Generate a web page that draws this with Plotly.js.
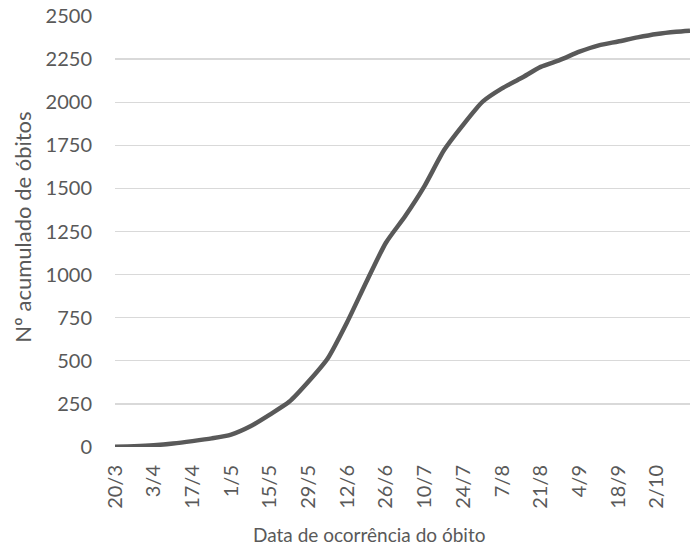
<!DOCTYPE html>
<html>
<head>
<meta charset="utf-8">
<script src="https://cdn.plot.ly/plotly-3.0.1.min.js"></script>
<style>html,body{margin:0;padding:0;background:#fff;}#chart{width:699px;height:547px;}</style>
</head>
<body>
<div id="chart"></div>
<script>
// Dates (day/month 2020) and cumulative deaths
const dates = ['2020-03-20','2020-03-27','2020-04-03','2020-04-10','2020-04-17','2020-04-24',
  '2020-05-01','2020-05-08','2020-05-15','2020-05-22','2020-05-29','2020-06-05','2020-06-12',
  '2020-06-19','2020-06-26','2020-07-03','2020-07-10','2020-07-17','2020-07-24','2020-07-31',
  '2020-08-07','2020-08-14','2020-08-21','2020-08-28','2020-09-04','2020-09-11','2020-09-18',
  '2020-09-25','2020-10-02','2020-10-09','2020-10-14'];
const deaths = [1, 4, 10, 20, 34, 50, 72, 120, 188, 262, 380, 515, 725, 960, 1185, 1340,
  1515, 1721, 1870, 2003, 2080, 2140, 2205, 2245, 2293, 2330, 2352, 2376, 2396, 2409, 2415];
const tickDates = ['2020-03-20','2020-04-03','2020-04-17','2020-05-01','2020-05-15','2020-05-29',
  '2020-06-12','2020-06-26','2020-07-10','2020-07-24','2020-08-07','2020-08-21','2020-09-04',
  '2020-09-18','2020-10-02'];
const tickLabels = ['20/3','3/4','17/4','1/5','15/5','29/5','12/6','26/6','10/7','24/7','7/8',
  '21/8','4/9','18/9','2/10'];
const yTicks = [0,250,500,750,1000,1250,1500,1750,2000,2250,2500];
const xTitle = 'Data de ocorrência do óbito';
const yTitle = 'Nº acumulado de óbitos';

const font = {family: 'Lato, "Open Sans", sans-serif', size: 20, color: '#595959'};
const xTitleFont = {family: 'Lato, "Open Sans", sans-serif', size: 19, color: '#595959'};
const yTitleFont = {family: 'Lato, "Open Sans", sans-serif', size: 22, color: '#595959'};

Plotly.newPlot('chart', [{
  x: dates, y: deaths, type: 'scatter', mode: 'lines',
  line: {color: '#595959', width: 4.5, shape: 'spline', smoothing: 0.6},
  hoverinfo: 'skip'
}], {
  width: 699, height: 547,
  margin: {l: 115, r: 9, t: 16, b: 100, pad: 0},
  paper_bgcolor: '#fff', plot_bgcolor: '#fff',
  showlegend: false,
  font: font,
  xaxis: {
    type: 'date', range: ['2020-03-20','2020-10-14'],
    tickmode: 'array', tickvals: tickDates, ticktext: tickLabels,
    tickangle: -90, showgrid: false, zeroline: false, showline: false,
    ticks: '', ticklabelstandoff: 13, tickfont: font, automargin: false
  },
  yaxis: {
    range: [0, 2500], tickmode: 'array', tickvals: yTicks,
    gridcolor: '#d9d9d9', gridwidth: 1.3, zeroline: false, showline: false,
    ticks: '', ticklabelstandoff: 22, tickfont: font, automargin: false
  },
  annotations: [{
    text: xTitle, font: xTitleFont, showarrow: false,
    xref: 'paper', yref: 'paper', x: 0.4417, y: -0.202,
    xanchor: 'center', yanchor: 'middle'
  }, {
    text: yTitle, font: yTitleFont, showarrow: false, textangle: -90,
    xref: 'paper', yref: 'paper', x: -0.16, y: 0.5087,
    xanchor: 'center', yanchor: 'middle'
  }]
}, {staticPlot: true});
</script>
</body>
</html>
